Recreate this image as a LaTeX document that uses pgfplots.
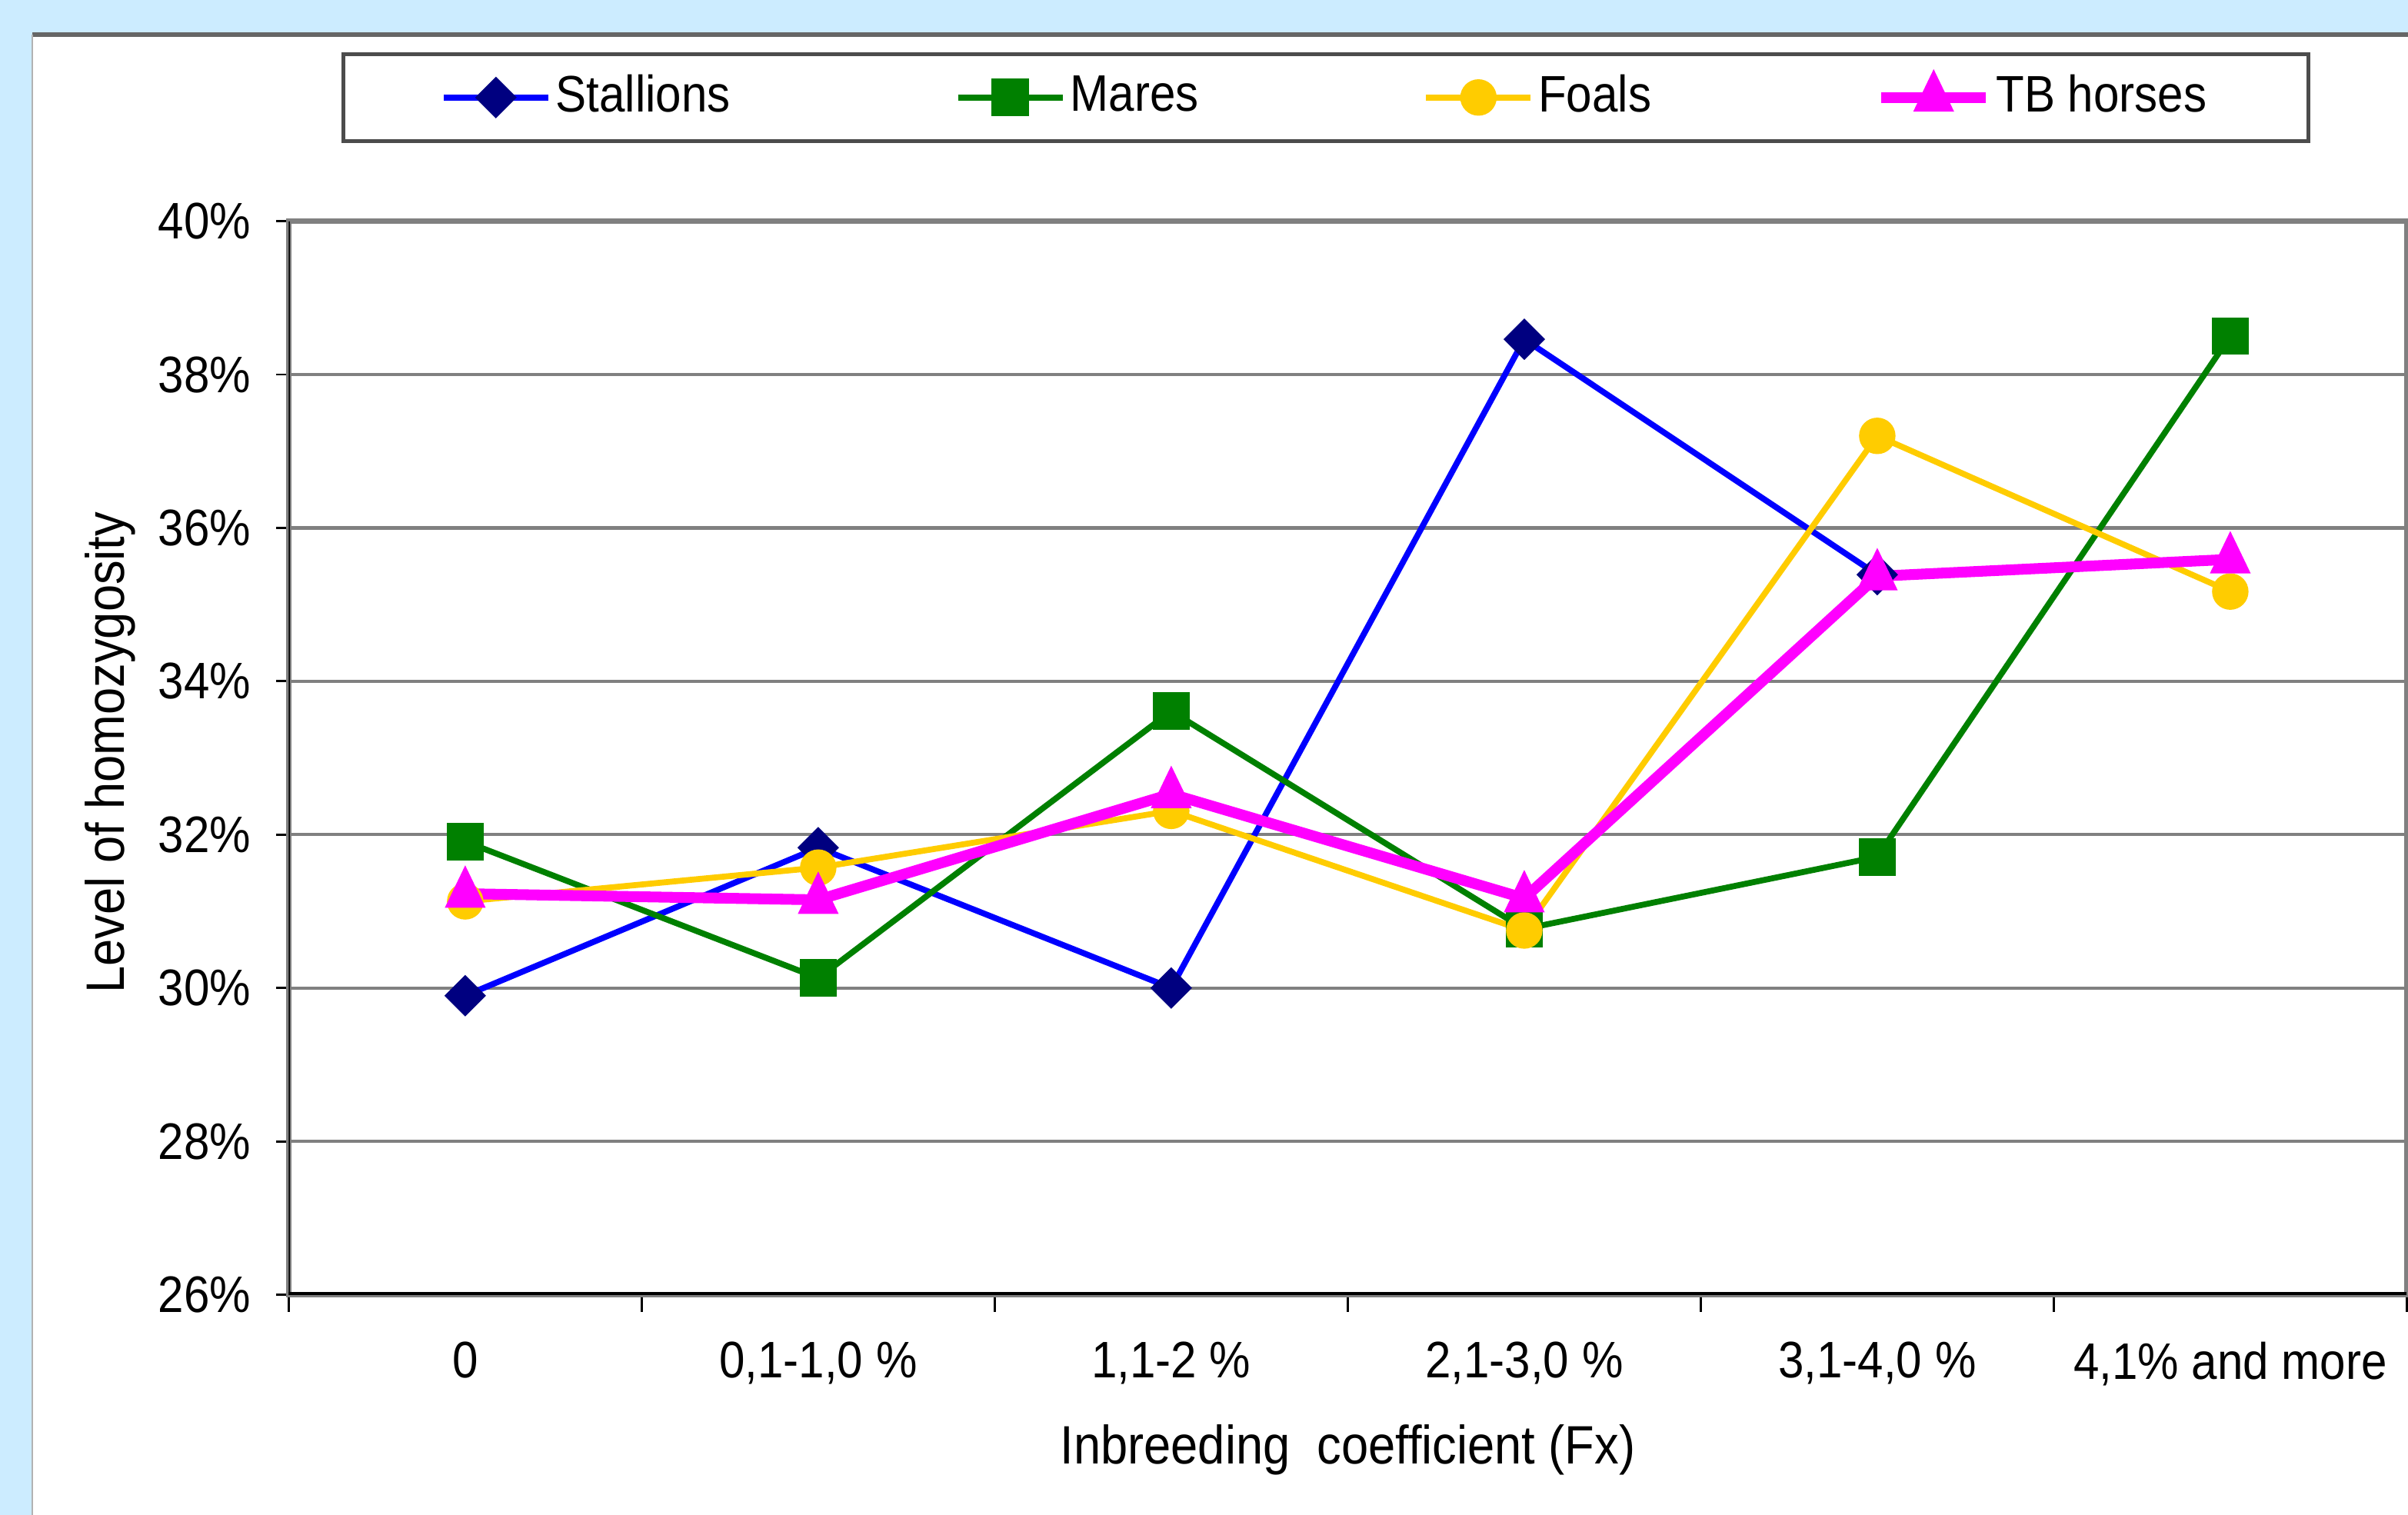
\documentclass[border=0pt]{standalone}
\usepackage{pgfplots}
\pgfplotsset{compat=1.18}
\usepackage{fontspec}
\setmainfont{Liberation Sans}[FakeStretch=0.9]
\definecolor{lightbg}{RGB}{204,236,255}
\definecolor{navyc}{RGB}{0,0,128}
\definecolor{bluec}{RGB}{0,0,255}
\definecolor{greenc}{RGB}{0,128,0}
\definecolor{goldc}{RGB}{255,204,0}
\definecolor{magc}{RGB}{255,0,255}
\newcommand{\fs}{\fontsize{9.5}{11.4}\selectfont}
\begin{document}
\begin{tikzpicture}
\useasboundingbox (0,0) rectangle (156.55mm,-98.5mm);
\fill[lightbg] (0,0) rectangle (156.55mm,-98.5mm);
\fill[white] (2.1mm,-2.25mm) rectangle (156.55mm,-98.5mm);
\draw[black!60, line width=0.9pt] (2.1mm,-2.25mm) -- (156.55mm,-2.25mm);
\draw[black!30, line width=0.3pt] (2.1mm,-2.25mm) -- (2.1mm,-98.5mm);
\begin{axis}[
  at={(18.77mm,-14.38mm)}, anchor=north west,
  width=137.7mm, height=69.8mm, scale only axis,
  xmin=-0.5, xmax=5.5, ymin=26, ymax=40,
  xtick={0,1,2,3,4,5},
  xticklabels={0, {0,1-1,0 \%}, {1,1-2 \%}, {2,1-3,0 \%}, {3,1-4,0 \%}, {4,1\% and more}},
  minor xtick={-0.5,0.5,1.5,2.5,3.5,4.5,5.5},
  ytick={26,28,30,32,34,36,38,40},
  yticklabels={26\%,28\%,30\%,32\%,34\%,36\%,38\%,40\%},
  xtick pos=bottom, ytick pos=left,
  ymajorgrids,
  grid style={black!50, line width=0.6pt},
  axis line style={black!50, line width=0.9pt},
  tick align=outside,
  major tick length=0.8mm, minor tick length=1.1mm,
  tick style={black, line width=0.4pt},
  major x tick style={draw=none},
  tick label style={font=\fs},
  xticklabel style={anchor=north, inner sep=0pt, yshift=-2.2mm},
  yticklabel style={anchor=east, inner sep=0pt, xshift=-1.6mm},
  label style={font=\fs},
  xlabel={Inbreeding\ \ coefficient (Fx)},
  ylabel={Level of homozygosity},
  every axis x label/.style={at={(axis description cs:0.5,-0.1447)}, anchor=center},
  every axis y label/.style={at={(axis description cs:-0.0842,0.505)}, anchor=center, rotate=90},
  legend columns=4,
  legend cell align=left,
  legend image code/.code={\draw[mark repeat=2,mark phase=2,#1] plot coordinates {(0mm,0mm)(3.4mm,0mm)(6.8mm,0mm)};},
  legend style={at={(axis description cs:0.4897,1.1152)}, anchor=center,
    draw=black!70, line width=0.7pt, font=\fs,
    inner xsep=6.3mm, inner ysep=0.75mm,
    nodes={inner xsep=0.3mm, inner ysep=0.6mm},
    /tikz/every even column/.append style={column sep=14.3mm}},
]
\addplot[bluec, line width=1.1pt, mark=square*, mark size=0.92mm,
  mark options={fill=navyc, draw=navyc, rotate=45, line width=0.2pt}]
  coordinates {(0,29.90)(1,31.83)(2,30.00)(3,38.46)(4,35.39)};
\addplot[greenc, line width=1.1pt, mark=square*, mark size=1.18mm,
  mark options={fill=greenc, draw=greenc, line width=0.2pt}]
  coordinates {(0,31.91)(1,30.13)(2,33.61)(3,30.77)(4,31.71)(5,38.50)};
\addplot[goldc, line width=1.1pt, mark=*, mark size=1.15mm,
  mark options={fill=goldc, draw=goldc, line width=0.2pt}]
  coordinates {(0,31.13)(1,31.57)(2,32.31)(3,30.75)(4,37.20)(5,35.17)};
\addplot[magc, line width=2pt, mark=triangle*, mark size=1.47mm,
  mark options={fill=magc, draw=magc, line width=0.2pt, yscale=1.2}]
  coordinates {(0,31.23)(1,31.15)(2,32.53)(3,31.17)(4,35.37)(5,35.59)};
\legend{Stallions,Mares,Foals,TB horses}
\draw[black, line width=0.5pt] (rel axis cs:0,1) -- (rel axis cs:0,0);
\draw[black, line width=1.1pt] (rel axis cs:0,0) -- (rel axis cs:1,0);
\end{axis}
\end{tikzpicture}
\end{document}
